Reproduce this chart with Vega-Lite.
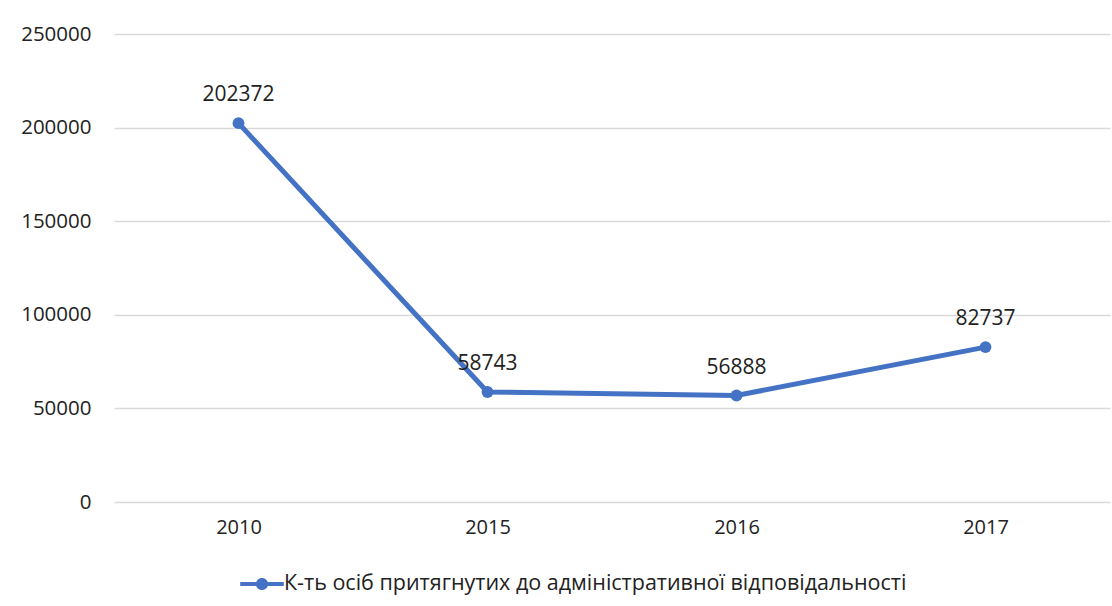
{
  "$schema": "https://vega.github.io/schema/vega-lite/v6.json",
  "width": 996,
  "height": 468,
  "autosize": {"type": "none"},
  "padding": {"left": 114, "top": 34, "right": 2, "bottom": 104},
  "background": "white",
  "config": {
    "view": {"stroke": null},
    "font": "Open Sans",
    "axis": {"labelFont": "Open Sans", "labelFontSize": 20.5, "labelColor": "#222222", "gridColor": "#d9d9d9", "gridWidth": 1.5, "domain": false, "ticks": false}
  },
  "data": {
    "values": [
      {"year": "2010", "value": 202372, "series": "К-ть осіб притягнутих до адміністративної відповідальності"},
      {"year": "2015", "value": 58743, "series": "К-ть осіб притягнутих до адміністративної відповідальності"},
      {"year": "2016", "value": 56888, "series": "К-ть осіб притягнутих до адміністративної відповідальності"},
      {"year": "2017", "value": 82737, "series": "К-ть осіб притягнутих до адміністративної відповідальності"}
    ]
  },
  "encoding": {
    "x": {"field": "year", "type": "ordinal", "title": null, "scale": {"paddingInner": 0, "paddingOuter": 0}, "axis": {"labelAngle": 0, "labelPadding": 15, "labelFontSize": 20, "grid": false}},
    "y": {"field": "value", "type": "quantitative", "title": null, "scale": {"domain": [0, 250000], "nice": false}, "axis": {"values": [0, 50000, 100000, 150000, 200000, 250000], "labelPadding": 23, "format": "d"}}
  },
  "layer": [
    {
      "mark": {"type": "line", "strokeWidth": 5, "color": "#4472C4"},
      "encoding": {
        "color": {"field": "series", "type": "nominal", "scale": {"range": ["#4472C4"]},
          "legend": {"title": null, "orient": "none", "legendX": 126, "legendY": 528, "labelFontSize": 21.5, "labelFont": "Open Sans", "labelColor": "#222222", "labelLimit": 0, "symbolType": "M-1,-0.09L1,-0.09L1,0.09L-1,0.09Z M-0.28,0A0.28,0.28 0 1,1 0.28,0A0.28,0.28 0 1,1 -0.28,0Z", "symbolSize": 1900, "symbolFillColor": "#4472C4", "symbolStrokeWidth": 0, "symbolOffset": 0, "labelOffset": 0}}
      }
    },
    {
      "mark": {"type": "point", "filled": true, "size": 140, "color": "#4472C4", "opacity": 1}
    },
    {
      "mark": {"type": "text", "dy": -28, "fontSize": 21, "font": "Open Sans", "color": "#222222"},
      "encoding": {"text": {"field": "value", "type": "quantitative", "format": "d"}}
    }
  ]
}
